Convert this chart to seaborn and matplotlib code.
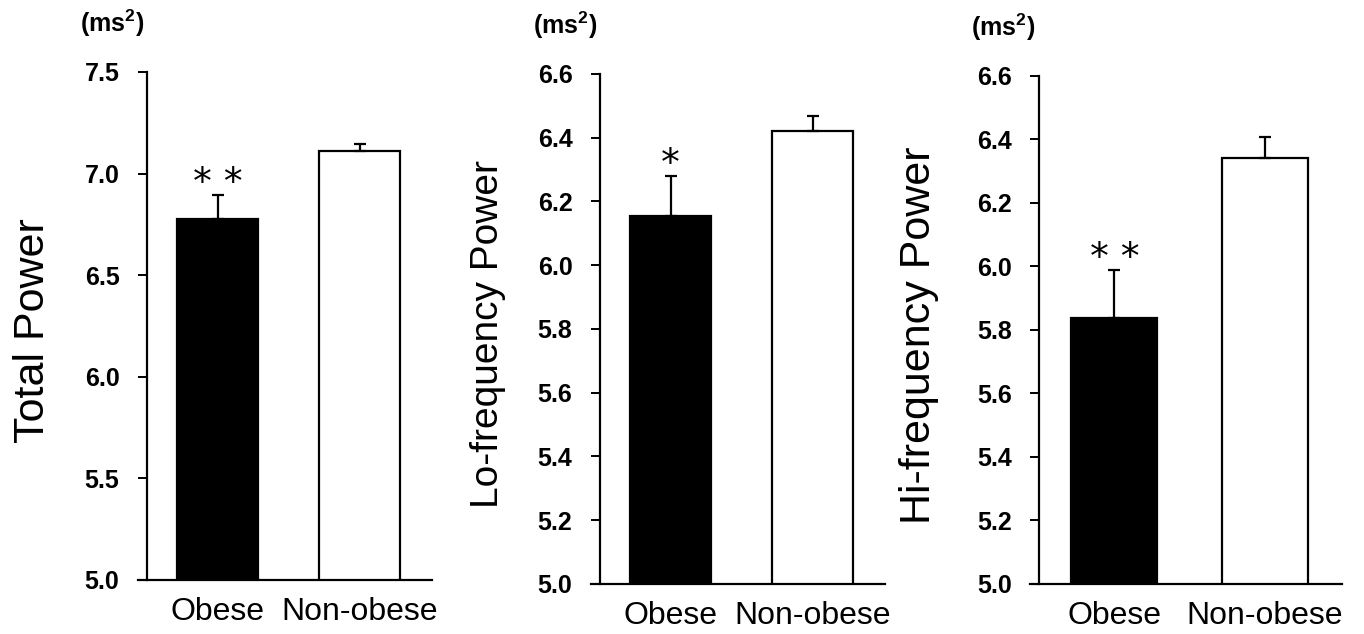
import pandas as pd
import numpy as np
import matplotlib
matplotlib.use("Agg")
import matplotlib.pyplot as plt
import seaborn as sns

# -----------------------------
# Data
# -----------------------------
groups = ["Obese", "Non-obese"]

total_mean = [6.777, 7.109]
total_sem = [0.118, 0.035]

lo_mean = [6.156, 6.420]
lo_sem = [0.124, 0.048]

hi_mean = [5.837, 6.342]
hi_sem = [0.152, 0.066]

ylabels = ["Total Power", "Lo-frequency Power", "Hi-frequency Power"]
stars = ["* *", "*", "* *"]
unit_label = "(ms$^2$)"

# -----------------------------
# Style
# -----------------------------
sns.set_style("white")
plt.rcParams["font.family"] = ["Liberation Sans", "DejaVu Sans"]
plt.rcParams["text.color"] = "black"
plt.rcParams["axes.labelcolor"] = "black"
plt.rcParams["xtick.color"] = "black"
plt.rcParams["ytick.color"] = "black"
plt.rcParams["mathtext.default"] = "regular"

fig = plt.figure(figsize=(13.64, 6.34), dpi=100)

# axes boxes in figure fractions (left, bottom, width, height)
boxes = [
    [0.1012, 0.0852, 0.2155, 0.8013],
    [0.4333, 0.0789, 0.2155, 0.8044],
    [0.7551, 0.0789, 0.2287, 0.8013],
]
ylims = [(5.0, 7.5), (5.0, 6.6), (5.0, 6.6)]
ysteps = [0.5, 0.2, 0.2]
label_sizes = [31, 28, 31]

means = [total_mean, lo_mean, hi_mean]
sems = [total_sem, lo_sem, hi_sem]

for i in range(3):
    ax = fig.add_axes(boxes[i])
    df = pd.DataFrame({"group": groups, "value": means[i]})
    sns.barplot(data=df, x="group", y="value", hue="group",
                palette=["black", "white"], edgecolor="black",
                linewidth=1.6, width=0.57, legend=False, ax=ax)

    # one-sided (upper) error bars
    ax.errorbar(x=[0, 1], y=means[i], yerr=[[0, 0], sems[i]], fmt="none",
                ecolor="black", elinewidth=1.6, capsize=4.5, capthick=1.6,
                zorder=3)

    # significance stars above the obese bar
    ax.annotate(stars[i], xy=(0, means[i][0] + sems[i][0]),
                xytext=(0, 1), textcoords="offset points",
                ha="center", va="baseline", fontsize=27,
                family="DejaVu Sans", color="black")

    lo, hi = ylims[i]
    ax.set_ylim(lo, hi)
    ax.set_yticks(np.arange(lo, hi + 1e-9, ysteps[i]))
    ax.yaxis.set_major_formatter(matplotlib.ticker.FormatStrFormatter("%.1f"))
    ax.set_xlim(-0.56, 1.51)

    ax.set_xlabel("")
    ax.set_ylabel(ylabels[i], fontsize=label_sizes[i])
    ax.yaxis.set_label_coords(-0.29, 0.49)

    for s in ["top", "right"]:
        ax.spines[s].set_visible(False)
    ax.spines["left"].set_position(("data", -0.5))
    for s in ["left", "bottom"]:
        ax.spines[s].set_linewidth(1.6)
        ax.spines[s].set_color("black")

    ax.tick_params(axis="y", direction="out", length=6.5, width=1.4,
                   pad=13, labelsize=18, left=True)
    ax.tick_params(axis="x", length=0, labelsize=23, pad=12)
    for t in ax.get_yticklabels():
        t.set_fontweight("bold")

    ax.text(-0.087, 1.095, unit_label, transform=ax.transAxes,
            ha="center", va="center", fontsize=18, fontweight="bold")

fig.savefig("out.png", dpi=100)
